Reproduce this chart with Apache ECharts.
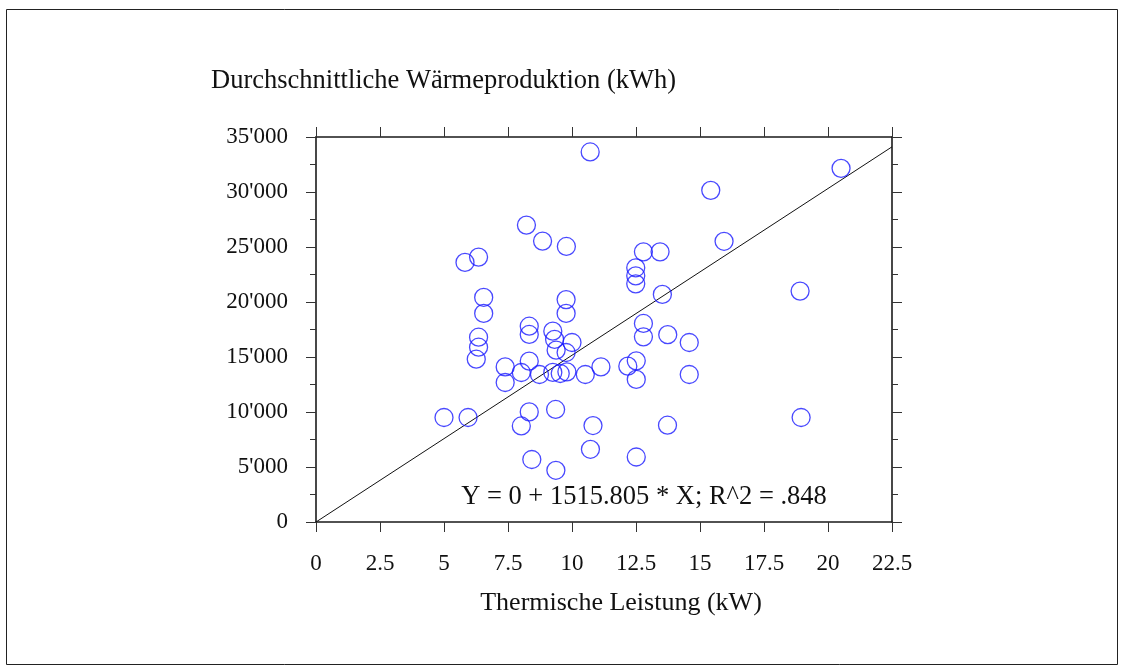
<!DOCTYPE html>
<html>
<head>
<meta charset="utf-8">
<script src="https://cdn.jsdelivr.net/npm/echarts@6/dist/echarts.min.js"></script>
<style>
  html, body { margin: 0; padding: 0; background: #ffffff; }
  #chart { width: 1125px; height: 672px; }
</style>
</head>
<body>
<div id="chart"></div>
<script>
// Thermal output of each installation (kW)
const thermalPower = [
  5.00, 5.94, 5.82, 6.35, 6.55, 6.55, 6.35, 6.35, 6.26, 7.39,
  7.39, 8.02, 8.02, 8.22, 8.33, 8.33, 8.33, 8.33, 8.43, 8.73,
  8.85, 9.25, 9.32, 9.38, 9.25, 9.36, 9.37, 9.78, 9.77, 9.77,
  9.77, 9.54, 9.80, 10.00, 10.52, 10.71, 10.72, 10.82, 11.13, 12.18,
  12.51, 12.51, 12.51, 12.49, 12.49, 12.49, 12.79, 13.44, 13.53, 12.79,
  12.79, 13.74, 14.58, 14.58, 13.73, 15.42, 15.94, 18.91, 18.95, 20.51
];
// Average annual heat production of the same installations (kWh)
const heatProduction = [
  9500, 9500, 23600, 24080, 20420, 18960, 16800, 15890, 14800, 14100,
  12680, 13590, 8730, 26990, 17800, 17050, 14620, 10010, 5680, 13410,
  25540, 17350, 16600, 15620, 13600, 10230, 4700, 25050, 20220, 18960,
  15410, 13500, 13650, 16320, 13410, 33640, 6610, 8770, 14100, 14170,
  14650, 12960, 5910, 23110, 22380, 21650, 24560, 24560, 20690, 18050,
  16830, 17030, 16320, 13410, 8800, 30150, 25520, 20990, 9500, 32150
];
// Fit through the origin: Y = intercept + slope * X
const fitIntercept = 0;
const fitSlope = 1515.805;
const fitRSquared = '.848';
const fitRangeX = [0, 22.5];

// Axis ranges and tick spacing
const xRange = [0, 22.5];
const xStep = 2.5;
const yRange = [0, 35000];
const yStep = 5000;

const titleText = 'Durchschnittliche Wärmeproduktion (kWh)';
const xAxisTitle = 'Thermische Leistung (kW)';

const points = thermalPower.map((x, i) => [x, heatProduction[i]]);
const fitLine = fitRangeX.map(x => [x, fitIntercept + fitSlope * x]);
const equationText = 'Y = ' + fitIntercept + ' + ' + fitSlope + ' * X; R^2 = ' + fitRSquared;

const serif = 'Liberation Serif, Times New Roman, serif';
const axisColor = '#1a1a1a';
const tickColor = '#333333';

function thousands(v) {
  if (v === 0) return '0';
  return Math.round(v / 1000) + "'000";
}

const baseAxis = {
  axisLine: { show: true, onZero: false, lineStyle: { color: axisColor, width: 1.6 } },
  axisTick: { show: true, inside: false, length: 10, lineStyle: { color: tickColor, width: 1 } },
  splitLine: { show: false }
};

const chart = echarts.init(document.getElementById('chart'), null, { renderer: 'canvas' });

chart.setOption({
  backgroundColor: '#ffffff',
  animation: false,
  grid: {
    left: 316, top: 137, width: 576, height: 385,
    containLabel: false, outerBoundsMode: 'none'
  },
  xAxis: [
    Object.assign({}, baseAxis, {
      type: 'value', position: 'bottom',
      min: xRange[0], max: xRange[1], interval: xStep,
      axisLabel: {
        show: true, margin: 30, color: '#111111',
        fontFamily: serif, fontSize: 23
      }
    }),
    Object.assign({}, baseAxis, {
      type: 'value', position: 'top',
      min: xRange[0], max: xRange[1], interval: xStep,
      axisLabel: { show: false }
    })
  ],
  yAxis: [
    Object.assign({}, baseAxis, {
      type: 'value', position: 'left',
      min: yRange[0], max: yRange[1], interval: yStep,
      minorTick: { show: true, splitNumber: 2, length: 6, lineStyle: { color: tickColor, width: 1 } },
      axisLabel: {
        show: true, margin: 28, color: '#111111',
        fontFamily: serif, fontSize: 23,
        formatter: thousands
      }
    }),
    Object.assign({}, baseAxis, {
      type: 'value', position: 'right',
      min: yRange[0], max: yRange[1], interval: yStep,
      minorTick: { show: true, splitNumber: 2, length: 6, lineStyle: { color: tickColor, width: 1 } },
      axisLabel: { show: false }
    })
  ],
  series: [
    {
      name: 'Fit',
      type: 'line',
      xAxisIndex: 0, yAxisIndex: 0,
      data: fitLine,
      symbol: 'none',
      lineStyle: { color: '#111111', width: 1 },
      silent: true,
      z: 2
    },
    {
      name: 'Anlagen',
      type: 'scatter',
      xAxisIndex: 0, yAxisIndex: 0,
      data: points,
      symbol: 'circle',
      symbolSize: 18,
      itemStyle: { color: 'rgba(0,0,0,0)', borderColor: '#1a1aff', borderWidth: 1.3 },
      z: 3
    }
  ],
  graphic: [
    {
      type: 'rect',
      shape: { x: 6.5, y: 9.5, width: 1111, height: 655 },
      style: { fill: 'none', stroke: '#222222', lineWidth: 1 },
      silent: true
    },
    {
      type: 'text',
      x: 211, y: 81,
      style: {
        text: titleText, fill: '#111111',
        font: '26.5px ' + serif,
        textAlign: 'left', textVerticalAlign: 'middle'
      }
    },
    {
      type: 'text',
      x: 621, y: 603,
      style: {
        text: xAxisTitle, fill: '#111111',
        font: '26px ' + serif,
        textAlign: 'center', textVerticalAlign: 'middle'
      }
    },
    {
      type: 'text',
      x: 644, y: 497,
      style: {
        text: equationText, fill: '#111111',
        font: '26.5px ' + serif,
        textAlign: 'center', textVerticalAlign: 'middle'
      }
    }
  ]
});
</script>
</body>
</html>
